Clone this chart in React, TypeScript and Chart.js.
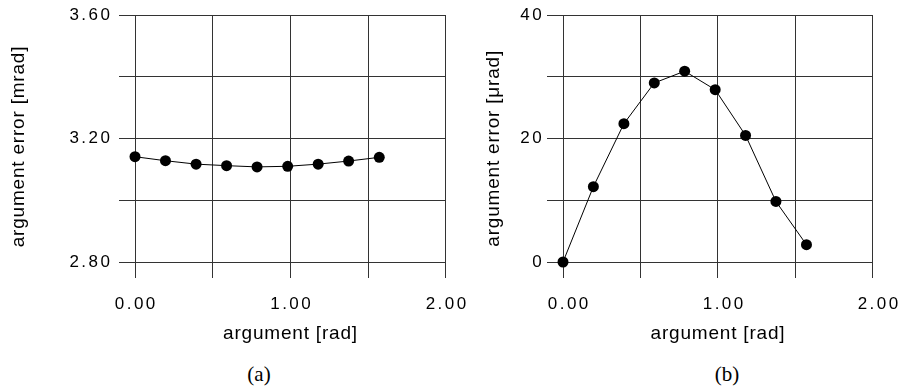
import React, { useEffect, useRef } from 'react';
import { Chart, registerables } from 'chart.js';

Chart.register(...registerables);

// ---- data ----
const argumentRad = [0, 0.196, 0.393, 0.589, 0.785, 0.982, 1.178, 1.374, 1.571];
const errorMrad = [3.141, 3.128, 3.117, 3.112, 3.108, 3.11, 3.117, 3.127, 3.139];
const errorUrad = [0, 12.2, 22.4, 29.0, 30.9, 27.9, 20.5, 9.8, 2.8];

const xTickLabels = ['0.00', '', '1.00', '', '2.00'];
const yTickLabelsA = ['2.80', '', '3.20', '', '3.60'];
const yTickLabelsB = ['0', '', '20', '', '40'];

const xTitle = 'argument [rad]';
const yTitleA = 'argument error [mrad]';
const yTitleB = 'argument error [μrad]';
const captionA = '(a)';
const captionB = '(b)';

const FONT = '"Liberation Sans", Arial, Helvetica, sans-serif';
const PLOT_TOP = 15;
const PLOT_BOTTOM = 262;
const TICK_SPACING = 2.5;
const TITLE_SPACING = 0.8;
const TITLE_SIZE = 19;

type Panel = {
  left: number;
  width: number;
  height: number;
  areaLeft: number;
  areaRight: number;
  yMin: number;
  yMax: number;
  yStep: number;
  yLabels: string[];
  ys: number[];
  yTitle: string;
  yTitleX: number;
  yTitleY: number;
  yLabelPad: number;
  xLabelOffset: number;
};

const spacingPlugin = {
  id: 'yTitle',
  beforeDraw(chart: any) {
    chart.ctx.letterSpacing = `${TITLE_SPACING}px`;
  },
  afterDatasetsDraw(chart: any) {
    chart.ctx.letterSpacing = `${TICK_SPACING}px`;
  },
  afterDraw(chart: any, _args: any, opts: any) {
    const ctx = chart.ctx;
    ctx.save();
    ctx.letterSpacing = `${TITLE_SPACING}px`;
    ctx.font = `${TITLE_SIZE}px ${FONT}`;
    ctx.fillStyle = '#000';
    ctx.translate(opts.x, opts.y);
    ctx.rotate(-Math.PI / 2);
    ctx.textAlign = 'center';
    ctx.textBaseline = 'middle';
    ctx.fillText(opts.text, 0, 0);
    ctx.restore();
    ctx.letterSpacing = '0px';
  },
};

function makeChart(canvas: HTMLCanvasElement, p: Panel) {
  const tickFont = { family: FONT, size: 17, lineHeight: 1 };
  return new Chart(canvas, {
    type: 'line',
    data: {
      datasets: [
        {
          data: argumentRad.map((x, i) => ({ x, y: p.ys[i] })),
          borderColor: '#000',
          borderWidth: 1,
          pointRadius: 5.5,
          pointBackgroundColor: '#000',
          pointBorderWidth: 0,
          tension: 0,
          fill: false,
          clip: false,
        } as any,
      ],
    },
    options: {
      animation: false,
      responsive: false,
      devicePixelRatio: 1,
      events: [],
      layout: { padding: { left: 0, top: PLOT_TOP, right: p.width - p.areaRight, bottom: 0 } },
      plugins: {
        legend: { display: false },
        tooltip: { enabled: false },
        yTitle: { text: p.yTitle, x: p.yTitleX, y: p.yTitleY },
      } as any,
      scales: {
        x: {
          type: 'linear',
          min: 0,
          max: 2,
          afterFit: (s: any) => {
            s.height = p.height - PLOT_BOTTOM;
          },
          ticks: {
            stepSize: 0.5,
            autoSkip: false,
            maxRotation: 0,
            callback: (_v: any, i: number) => xTickLabels[i] ?? '',
            font: tickFont,
            color: '#000',
            padding: 17.5,
            labelOffset: p.xLabelOffset,
            z: 1,
          } as any,
          grid: { color: '#333', lineWidth: 1, tickLength: 16, drawTicks: true },
          border: { display: false },
          title: {
            display: true,
            text: xTitle,
            color: '#000',
            font: { family: FONT, size: TITLE_SIZE, lineHeight: 1 },
            padding: { top: 0, bottom: 17 },
          },
        },
        y: {
          type: 'linear',
          min: p.yMin,
          max: p.yMax,
          afterFit: (s: any) => {
            s.width = p.areaLeft;
          },
          ticks: {
            stepSize: p.yStep,
            autoSkip: false,
            callback: (_v: any, i: number) => p.yLabels[i] ?? '',
            font: tickFont,
            color: '#000',
            padding: p.yLabelPad,
            z: 1,
          } as any,
          grid: { color: '#333', lineWidth: 1, tickLength: 16, drawTicks: true },
          border: { display: false },
        },
      },
    },
    plugins: [spacingPlugin as any],
  });
}

const panelA: Panel = {
  left: 0,
  width: 480,
  height: 360,
  areaLeft: 135,
  areaRight: 449,
  yMin: 2.8,
  yMax: 3.6,
  yStep: 0.2,
  yLabels: yTickLabelsA,
  ys: errorMrad,
  yTitle: yTitleA,
  yTitleX: 18.5,
  yTitleY: 146.5,
  yLabelPad: 6.5,
  xLabelOffset: 1.25,
};

const panelB: Panel = {
  left: 480,
  width: 427,
  height: 360,
  areaLeft: 83,
  areaRight: 397,
  yMin: 0,
  yMax: 40,
  yStep: 10,
  yLabels: yTickLabelsB,
  ys: errorUrad,
  yTitle: yTitleB,
  yTitleX: 13.3,
  yTitleY: 148.3,
  yLabelPad: 2.8,
  xLabelOffset: 6.25,
};

export default function App() {
  const refA = useRef<HTMLCanvasElement>(null);
  const refB = useRef<HTMLCanvasElement>(null);

  useEffect(() => {
    const a = makeChart(refA.current!, panelA);
    const b = makeChart(refB.current!, panelB);
    return () => {
      a.destroy();
      b.destroy();
    };
  }, []);

  const captionStyle = (cx: number): React.CSSProperties => ({
    position: 'absolute',
    left: cx - 40,
    width: 80,
    top: 362,
    height: 24,
    lineHeight: '24px',
    textAlign: 'center',
    fontFamily: '"Liberation Serif", "DejaVu Serif", serif',
    fontSize: 21,
    color: '#000',
  });

  return (
    <div style={{ position: 'absolute', left: 0, top: 0, width: 907, height: 388, background: '#fff', overflow: 'hidden' }}>
      <canvas
        ref={refA}
        width={panelA.width}
        height={panelA.height}
        style={{ position: 'absolute', left: panelA.left, top: 0, width: panelA.width, height: panelA.height }}
      />
      <canvas
        ref={refB}
        width={panelB.width}
        height={panelB.height}
        style={{ position: 'absolute', left: panelB.left, top: 0, width: panelB.width, height: panelB.height }}
      />
      <div style={captionStyle(259)}>{captionA}</div>
      <div style={captionStyle(727)}>{captionB}</div>
    </div>
  );
}
